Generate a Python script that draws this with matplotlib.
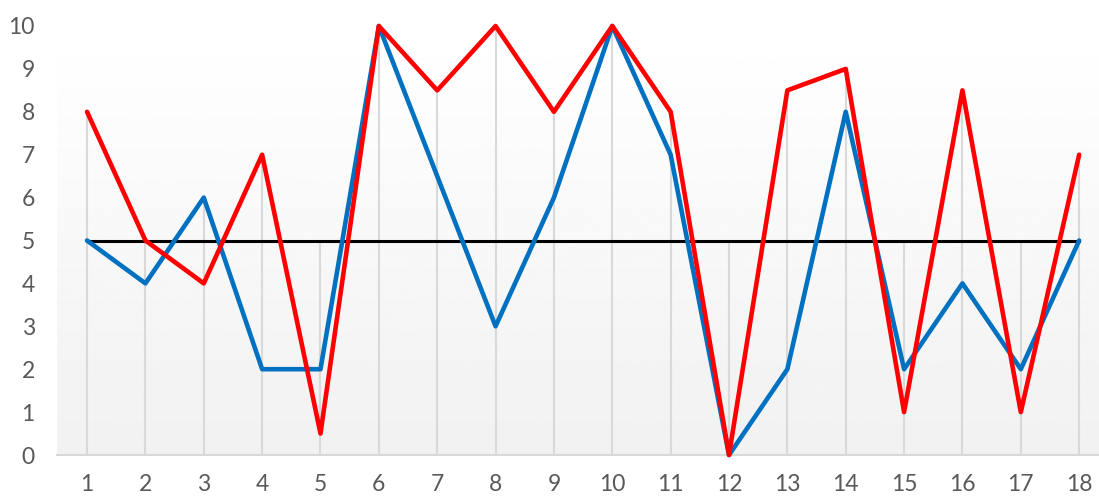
import matplotlib
matplotlib.use("Agg")
import matplotlib.pyplot as plt
import numpy as np

categories = list(range(1, 19))
blue = [5, 4, 6, 2, 2, 10, 6.5, 3, 6, 10, 7, 0, 2, 8, 2, 4, 2, 5]
red = [8, 5, 4, 7, 0.5, 10, 8.5, 10, 8, 10, 8, 0, 8.5, 9, 1, 8.5, 1, 7]
baseline = [5] * 18
yticks = list(range(0, 11))

plt.rcParams['font.family'] = ['Lato', 'DejaVu Sans']

fig = plt.figure(figsize=(10.99, 4.96), dpi=100)
ax = fig.add_axes([57/1099, 1-455/496, 1-57/1099, (455-26)/496])
ax.set_xlim(0.485, 18.34)
ax.set_ylim(0, 10)

# gradient background
grad = np.linspace(0.945, 1.0, 256).reshape(-1, 1)
ax.imshow(grad, cmap='gray', vmin=0, vmax=1, aspect='auto', origin='lower',
          extent=[0.485, 18.34, 0, 10], zorder=0)

# drop lines
tops = [max(a, b, c) for a, b, c in zip(blue, red, baseline)]
ax.vlines(categories, 0, tops, colors='#d9d9d9', linewidth=1.5, zorder=1)

ax.plot(categories, baseline, color='black', linewidth=2.2, zorder=2, clip_on=False)
ax.plot(categories, blue, color='#0070C0', linewidth=3.3, zorder=3, clip_on=False,
        solid_joinstyle='round', solid_capstyle='round')
ax.plot(categories, red, color='#FF0000', linewidth=3.3, zorder=4, clip_on=False,
        solid_joinstyle='round', solid_capstyle='round')

for s in ['top', 'right', 'left']:
    ax.spines[s].set_visible(False)
ax.spines['bottom'].set_color('#d9d9d9')
ax.spines['bottom'].set_linewidth(1.5)

ax.set_xticks(categories)
ax.set_xticklabels([str(c) for c in categories])
ax.set_yticks(yticks)
ax.set_yticklabels([str(t) for t in yticks])
ax.tick_params(axis='both', length=0, labelsize=16.5, colors='#595959')
ax.tick_params(axis='y', pad=16)
ax.tick_params(axis='x', pad=14)

fig.savefig('out.png', dpi=100)
